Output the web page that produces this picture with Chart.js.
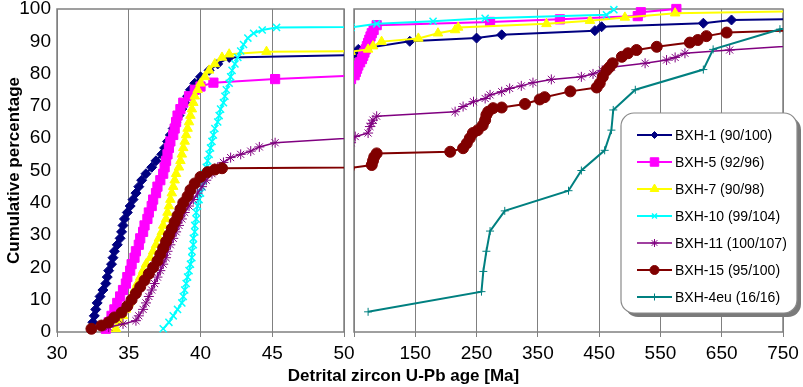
<!DOCTYPE html>
<html>
<head>
<meta charset="utf-8">
<title>Detrital zircon U-Pb ages</title>
<script src="https://cdn.jsdelivr.net/npm/chart.js@4.4.1/dist/chart.umd.min.js"></script>
<style>
  html, body { margin: 0; padding: 0; background: #fff; }
  #wrap { position: relative; width: 803px; height: 387px; overflow: hidden; font-family: "Liberation Sans", Arial, sans-serif; }
  #leftBox { position: absolute; left: 0; top: 0; width: 362px; height: 387px; }
  #rightBox { position: absolute; left: 340px; top: 0; width: 463px; height: 387px; }
  #xTitle { position: absolute; left: 0; top: 366px; width: 807px; line-height: 20px; text-align: center; font-weight: bold; font-size: 17px; color: #000; }
</style>
</head>
<body>
<div id="wrap">
  <div id="leftBox"><canvas id="leftChart"></canvas></div>
  <div id="rightBox"><canvas id="rightChart"></canvas></div>
  <div id="xTitle">Detrital zircon U-Pb age [Ma]</div>
</div>
<script>
// Cumulative age curves, ages in Ma, cumulative percentage
const seriesNames = ['BXH-1 (90/100)', 'BXH-5 (92/96)', 'BXH-7 (90/98)', 'BXH-10 (99/104)',
                     'BXH-11 (100/107)', 'BXH-15 (95/100)', 'BXH-4eu (16/16)'];

const bxh1Age = [32.4, 32.5, 32.6, 32.7, 32.8, 33.0, 33.2, 33.4, 33.5, 33.6, 33.8, 33.9, 34.0, 34.2, 34.4,
                 34.5, 34.6, 34.7, 34.9, 35.1, 35.3, 35.5, 35.7, 35.9, 36.2, 36.6, 36.9, 37.3, 37.5, 37.7,
                 37.9, 38.1, 38.3, 38.5, 38.7, 38.9, 39.1, 39.3, 39.6, 40.0, 40.6, 41.2, 42.0,
                 54, 57, 141, 250, 291, 443, 454, 620, 666, 800];
const bxh1Pct = [1, 3, 5, 7, 9, 11, 13, 15, 17, 19, 21, 23, 25, 27, 29, 31, 33, 35, 37, 39, 41, 43, 45, 47,
                 49, 51, 53, 55, 57, 59, 61, 63, 65, 67, 69, 71, 73, 75, 77, 79, 81, 83, 85,
                 86, 87.5, 90, 91, 92, 93.3, 94.5, 95.6, 96.6, 97];

const bxh5Age = [33.4, 33.6, 33.8, 34.0, 34.2, 34.4, 34.6, 34.8, 34.9, 35.1, 35.2, 35.4, 35.5, 35.7, 35.8,
                 36.0, 36.1, 36.3, 36.4, 36.6, 36.7, 36.9, 37.0, 37.2, 37.4, 37.5, 37.6, 37.7, 37.8, 37.9,
                 38.1, 38.2, 38.3, 38.4, 38.6, 38.8, 39.2, 39.6, 40.0, 40.9, 45.2,
                 51, 53, 55, 57, 60, 63, 65, 67, 69, 71, 73, 75, 77, 79, 82, 87, 272, 386, 513, 518, 576];
const bxh5Pct = [1, 3, 5, 7, 9, 11, 13, 15, 17, 19, 21, 23, 25, 27, 29, 31, 33, 35, 37, 39, 41, 43, 45, 47,
                 49, 51, 53, 55, 57, 59, 61, 63, 65, 67, 69, 71, 73, 75, 76, 77.2, 78.3,
                 79.5, 80.5, 81.5, 82.5, 83.5, 84.5, 85.5, 86.5, 87.5, 88.5, 89.5, 90.5, 91.5, 92.5, 93.5,
                 95, 96, 96.8, 97.8, 99, 100];

const bxh7Age = [34.1, 34.4, 34.6, 34.8, 35.0, 35.2, 35.4, 35.6, 35.8, 36.0, 36.2, 36.5, 36.7, 36.9, 37.1,
                 37.3, 37.4, 37.6, 37.7, 37.8, 37.9, 38.0, 38.1, 38.2, 38.3, 38.5, 38.6, 38.7, 38.8, 38.9,
                 39.0, 39.1, 39.2, 39.3, 39.4, 39.5, 39.6, 39.8, 40.0, 40.3, 40.6, 41.0, 41.5, 42.0, 44.6,
                 73, 81, 95, 155, 187, 215, 220, 364, 435, 492, 574, 800];
const bxh7Pct = [1, 3, 5, 7, 9, 11, 13, 15, 17, 19, 21, 23, 25, 27, 29, 31, 33, 35, 37, 39, 41, 43, 45, 47,
                 49, 51, 53, 55, 57, 59, 61, 63, 65, 67, 69, 71, 73, 75, 77, 79, 81, 83, 85, 86, 86.8,
                 87.5, 88.5, 89.9, 90.9, 92.5, 93.5, 94.3, 95.4, 96.4, 97.4, 98.7, 99.4];

const bxh10Age = [37.4, 37.8, 38.1, 38.4, 38.7, 38.8, 38.9, 39.0, 39.1, 39.2, 39.3, 39.4, 39.4, 39.5, 39.5,
                  39.6, 39.6, 39.7, 39.7, 39.8, 39.9, 40.0, 40.1, 40.2, 40.3, 40.4, 40.5, 40.6, 40.7, 40.8,
                  40.9, 41.0, 41.2, 41.3, 41.4, 41.6, 41.7, 41.8, 42.0, 42.1, 42.2, 42.4, 42.6, 42.8, 43.0,
                  43.3, 43.7, 44.3, 45.3,
                  87, 179, 264, 462, 474];
const bxh10Pct = [1, 3, 5, 7, 9, 11, 13, 15, 17, 19, 21, 23, 25, 27, 29, 31, 33, 35, 37, 39, 41, 43, 45, 47,
                  49, 51, 53, 55, 57, 59, 61, 63, 65, 67, 69, 71, 73, 75, 77, 79, 81, 83, 85, 87, 89,
                  91, 92.5, 93.5, 94.3,
                  95.4, 96.2, 97.1, 98.2, 99.8];

const bxh11Age = [33.6, 34.6, 35.5, 35.7, 36.0, 36.2, 36.4, 36.6, 36.8, 37.0, 37.2, 37.4, 37.6, 37.7, 37.9,
                  38.1, 38.3, 38.5, 38.7, 38.9, 39.2, 39.5, 39.8, 40.1, 40.4, 40.8, 41.2, 41.6, 42.1, 42.8,
                  43.5, 44.1, 45.2,
                  52, 73, 76, 79, 81, 87, 215, 228, 245, 264, 272, 291, 304, 323, 342, 372, 421, 440,
                  455, 470, 525, 560, 574, 590, 663, 800];
const bxh11Pct = [1.5, 2.5, 3.5, 5, 7, 9, 11, 13, 15, 17, 19, 21, 23, 25, 27, 29, 31, 33, 35, 37, 39, 41, 43,
                  45, 47, 49, 51, 52.5, 54, 55, 56, 57.3, 58.6,
                  60.5, 61.6, 63.6, 64.6, 65.6, 66.8, 68.2, 69.8, 71.3, 72.3, 73.4, 74.4, 75.4, 76.2, 77.2,
                  78.2, 79, 79.9, 81, 82, 83.2, 84.2, 85, 86.3, 87.3, 89];

const bxh15Age = [32.4, 33.1, 33.6, 34.0, 34.5, 34.9, 35.2, 35.5, 35.8, 36.1, 36.4, 36.7, 37.0, 37.2, 37.4,
                  37.6, 37.8, 38.0, 38.2, 38.4, 38.6, 38.8, 39.1, 39.3, 39.6, 40.0, 40.5, 41.0, 41.5,
                  79, 81, 83, 87, 207, 228, 234, 239, 244, 252, 260, 264, 266, 269, 277, 291, 329, 353,
                  361, 403, 446, 451, 456, 462, 467, 472, 487, 497, 511, 544, 598, 611, 625, 658, 790];
const bxh15Pct = [1, 2, 3, 4.5, 6, 8, 10, 12, 14, 16, 18, 20, 22, 24, 26, 28, 30, 32, 34, 36, 38, 40, 42, 44,
                  46, 48, 49.5, 50.3, 50.7,
                  51.7, 53, 54.2, 55.3, 55.8, 56.9, 58.4, 60, 61.6, 62.5, 64, 65.6, 67.2, 68.2, 69.3, 69.5,
                  70.6, 72, 72.7, 74.5, 75.7, 77, 79, 81, 82, 83.2, 85.2, 86.3, 87.3, 88.3, 89.6, 90.4,
                  91.6, 92.7, 93.5];

const bxh4euAge = [73, 258, 261, 266, 272, 296, 400, 421, 459, 470, 473, 509, 620, 636, 745, 1000];
const bxh4euPct = [6.25, 12.5, 18.75, 25, 31.25, 37.5, 43.75, 50, 56.25, 62.5, 68.75, 75, 81.25, 87.5, 93.75, 100];

// tick labels
const leftTicks = [30, 35, 40, 45, 50];
const rightTicks = [50, 150, 250, 350, 450, 550, 650, 750];
const pctTicks = [0, 10, 20, 30, 40, 50, 60, 70, 80, 90, 100];

const allAges = [bxh1Age, bxh5Age, bxh7Age, bxh10Age, bxh11Age, bxh15Age, bxh4euAge];
const allPcts = [bxh1Pct, bxh5Pct, bxh7Pct, bxh10Pct, bxh11Pct, bxh15Pct, bxh4euPct];

// Excel-like series styles
const seriesStyles = [
    { color: '#000080', marker: 'rectRot',   radius: 5,   markerWidth: 1,   lineWidth: 2,   legendRadius: 3.5 },
    { color: '#ff00ff', marker: 'rect',      radius: 6.5, markerWidth: 1,   lineWidth: 2,   legendRadius: 6 },
    { color: '#ffff00', marker: 'triangle',  radius: 5.5, markerWidth: 1,   lineWidth: 2,   legendRadius: 5 },
    { color: '#00ffff', marker: 'crossRot',  radius: 5,   markerWidth: 1.5, lineWidth: 2,   legendRadius: 3.5 },
    { color: '#800080', marker: 'star',      radius: 5,   markerWidth: 1,   lineWidth: 1.5, legendRadius: 4 },
    { color: '#800000', marker: 'circle',    radius: 5.5, markerWidth: 1,   lineWidth: 2,   legendRadius: 4.5 },
    { color: '#008080', marker: 'cross',     radius: 4,   markerWidth: 1,   lineWidth: 2,   legendRadius: 3.5 }
];

const tickFont = { family: '"Liberation Sans", Arial, sans-serif', size: 19 };
const gridGrey = '#808080';

function makeDatasets() {
    return seriesNames.map(function(name, i) {
        const st = seriesStyles[i];
        return {
            label: name,
            data: allAges[i].map((a, k) => ({ x: a, y: allPcts[i][k] })),
            borderColor: st.color,
            backgroundColor: st.color,
            borderWidth: st.lineWidth,
            pointStyle: st.marker,
            pointRadius: st.radius,
            pointBorderWidth: st.markerWidth,
            pointBackgroundColor: st.color,
            pointBorderColor: st.color,
            tension: 0,
            order: seriesNames.length - i,   // later series drawn on top, like Excel
            clip: { left: 0, right: 0, top: 10, bottom: 10 }
        };
    });
}

function setTicks(values) {
    return function(scale) { scale.ticks = values.map(v => ({ value: v })); };
}

// grey frame round the plot area
const framePlugin = {
    id: 'frame',
    beforeDatasetsDraw(chart) {
        const a = chart.chartArea, ctx = chart.ctx;
        ctx.save();
        ctx.strokeStyle = gridGrey;
        ctx.lineWidth = 1.5;
        ctx.strokeRect(a.left, a.top, a.right - a.left, a.bottom - a.top);
        ctx.restore();
    }
};

function roundRectPath(ctx, x, y, w, h, r) {
    ctx.beginPath();
    ctx.moveTo(x + r, y);
    ctx.arcTo(x + w, y, x + w, y + h, r);
    ctx.arcTo(x + w, y + h, x, y + h, r);
    ctx.arcTo(x, y + h, x, y, r);
    ctx.arcTo(x, y, x + w, y, r);
    ctx.closePath();
}

// rounded legend box with shadow, inside the right panel
const boxLegend = {
    id: 'boxLegend',
    afterDraw(chart) {
        const ctx = chart.ctx, a = chart.chartArea;
        const left = a.right - 162, top = a.top + 104, w = 176, h = 200;
        ctx.save();
        ctx.fillStyle = '#7a7a7a';
        roundRectPath(ctx, left + 4, top + 4, w, h, 13);
        ctx.fill();
        ctx.fillStyle = '#ffffff';
        roundRectPath(ctx, left, top, w, h, 13);
        ctx.fill();
        ctx.strokeStyle = '#8a8a8a';
        ctx.lineWidth = 1.2;
        ctx.stroke();

        chart.data.datasets.forEach(function(ds, i) {
            const st = seriesStyles[i];
            const y = top + 22 + i * 27;
            ctx.strokeStyle = st.color;
            ctx.fillStyle = st.color;
            ctx.lineWidth = st.lineWidth;
            ctx.beginPath();
            ctx.moveTo(left + 16, y);
            ctx.lineTo(left + 51, y);
            ctx.stroke();
            ctx.lineWidth = st.markerWidth;
            Chart.helpers.drawPoint(ctx, { pointStyle: st.marker, radius: st.legendRadius, borderWidth: st.markerWidth, rotation: 0 }, left + 33.5, y);
            ctx.fillStyle = '#000';
            ctx.font = '14px "Liberation Sans", Arial, sans-serif';
            ctx.textBaseline = 'middle';
            ctx.textAlign = 'left';
            ctx.fillText(ds.label, left + 54, y + 1);
        });
        ctx.restore();
    }
};

document.addEventListener('DOMContentLoaded', function() {
    // Left panel: 30 - 50 Ma
    new Chart(document.getElementById('leftChart'), {
        type: 'line',
        data: { datasets: makeDatasets() },
        options: {
            responsive: true,
            maintainAspectRatio: false,
            animation: false,
            events: [],
            layout: { padding: { top: 9, right: 18, left: 0, bottom: 0 } },
            plugins: { legend: { display: false }, tooltip: { enabled: false } },
            scales: {
                x: {
                    type: 'linear', min: 30, max: 50,
                    afterBuildTicks: setTicks(leftTicks),
                    grid: { color: gridGrey, lineWidth: 1, tickLength: 5 },
                    border: { display: false },
                    ticks: { font: tickFont, color: '#000', padding: 5, maxRotation: 0 },
                    afterFit: function(s) { s.height = 55; s.paddingLeft = 0; s.paddingRight = 0; }
                },
                y: {
                    type: 'linear', min: 0, max: 100,
                    afterBuildTicks: setTicks(pctTicks),
                    grid: { display: false, drawTicks: false },
                    border: { display: false },
                    ticks: { font: tickFont, color: '#000', padding: 6 },
                    title: {
                        display: true, text: 'Cumulative percentage', color: '#000',
                        font: { family: '"Liberation Sans", Arial, sans-serif', size: 17, weight: 'bold' },
                        padding: { top: 4, bottom: 0 }
                    },
                    afterFit: function(s) { s.width = 57; s.paddingTop = 0; s.paddingBottom = 0; }
                }
            }
        },
        plugins: [framePlugin]
    });

    // Right panel: 50 - 750 Ma
    new Chart(document.getElementById('rightChart'), {
        type: 'line',
        data: { datasets: makeDatasets() },
        options: {
            responsive: true,
            maintainAspectRatio: false,
            animation: false,
            events: [],
            layout: { padding: { top: 9, right: 20, left: 14, bottom: 0 } },
            plugins: { legend: { display: false }, tooltip: { enabled: false } },
            scales: {
                x: {
                    type: 'linear', min: 50, max: 750,
                    afterBuildTicks: setTicks(rightTicks),
                    grid: { color: gridGrey, lineWidth: 1, tickLength: 5 },
                    border: { display: false },
                    ticks: {
                        font: tickFont, color: '#000', padding: 5, maxRotation: 0,
                        callback: v => (v === 50 ? '' : v)   // "50" is labelled by the left panel
                    },
                    afterFit: function(s) { s.height = 55; s.paddingLeft = 0; s.paddingRight = 0; }
                },
                y: { type: 'linear', min: 0, max: 100, display: false }
            }
        },
        plugins: [framePlugin, boxLegend]
    });
});
</script>
</body>
</html>
